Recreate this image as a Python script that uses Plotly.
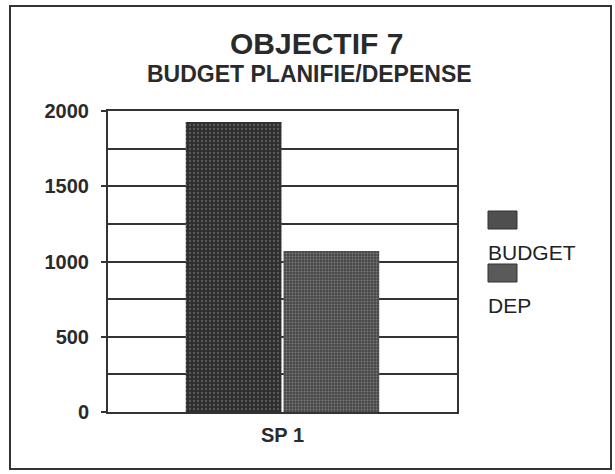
import plotly.graph_objects as go

# data
categories = ["SP 1"]
budget = [1927]
dep = [1070]
series_names = ["BUDGET", "DEP"]

title_main = "OBJECTIF 7"
title_sub = "BUDGET PLANIFIE/DEPENSE"

W, H = 615, 474
L, R, T, B = 108, 158, 111, 62   # plot area margins in px

def px_x(px):
  # page px -> paper x
  return (px - L) / (W - L - R)

def px_y(py):
  # page px (from top) -> paper y
  return (H - B - py) / (H - T - B)

FONT = "Liberation Sans, Arial, sans-serif"

fig = go.Figure()
fig.add_trace(go.Bar(x=categories, y=budget, name=series_names[0],
              marker=dict(color="#2f2f2f", line=dict(width=0),
                          pattern=dict(shape=".", bgcolor="#2e2e2e", fgcolor="#8a8a8a",
                                       size=4, solidity=0.25)),
              showlegend=False))
fig.add_trace(go.Bar(x=categories, y=dep, name=series_names[1],
              marker=dict(color="#4a4a4a", line=dict(width=0),
                          pattern=dict(shape=".", bgcolor="#474747", fgcolor="#ababab",
                                       size=3, solidity=0.35)),
              showlegend=False))

fig.update_layout(
  width=W, height=H,
  margin=dict(l=L, r=R, t=T, b=B),
  paper_bgcolor="white", plot_bgcolor="white",
  barmode="group", bargap=0.44, bargroupgap=0.02,
  font=dict(family=FONT, color="#222"),
)

fig.update_yaxes(range=[0, 2000], dtick=500,
                 tickfont=dict(size=20, family=FONT, weight="bold", color="#2a2a2a"),
                 showgrid=True, gridcolor="#333", gridwidth=2,
                 minor=dict(dtick=250, showgrid=True, gridcolor="#333", gridwidth=2),
                 ticks="outside", ticklen=5, tickwidth=2, tickcolor="#333",
                 showline=True, linecolor="#333", linewidth=2, mirror=True,
                 zeroline=False, ticklabelstandoff=8)
fig.update_xaxes(tickfont=dict(size=20, family=FONT, weight="bold", color="#2a2a2a"),
                 showline=True, linecolor="#333", linewidth=2, mirror=True,
                 showgrid=False, ticks="", ticklabelstandoff=4)

# titles
fig.add_annotation(text="<b>" + title_main + "</b>", xref="paper", yref="paper",
                   x=px_x(316), y=px_y(43), xanchor="center", yanchor="middle",
                   showarrow=False, font=dict(size=30, family=FONT, color="#2a2a2a"))
fig.add_annotation(text="<b>" + title_sub + "</b>", xref="paper", yref="paper",
                   x=px_x(309), y=px_y(74), xanchor="center", yanchor="middle",
                   showarrow=False, font=dict(size=23, family=FONT, color="#2a2a2a"))

# legend drawn by hand: swatch above its label
legend_rows = [(211, 229, 252, "#4f4f4f"), (264, 282, 305, "#5a5a5a")]
for (top, bot, ty, col), name in zip(legend_rows, series_names):
  fig.add_shape(type="rect", xref="paper", yref="paper",
                x0=px_x(488), x1=px_x(517), y0=px_y(bot), y1=px_y(top),
                fillcolor=col, line=dict(color="#333", width=1))
  fig.add_annotation(text=name, xref="paper", yref="paper",
                     x=px_x(486), y=px_y(ty), xanchor="left", yanchor="middle",
                     showarrow=False, font=dict(size=21, family=FONT, color="#222"))

# outer frame
fig.add_shape(type="rect", xref="paper", yref="paper",
              x0=px_x(10), x1=px_x(611), y0=px_y(469), y1=px_y(6),
              line=dict(color="#333", width=2), fillcolor="rgba(0,0,0,0)")

fig.write_html("out.html", config={"displayModeBar": False},
               post_script="document.body.style.margin='0';")
